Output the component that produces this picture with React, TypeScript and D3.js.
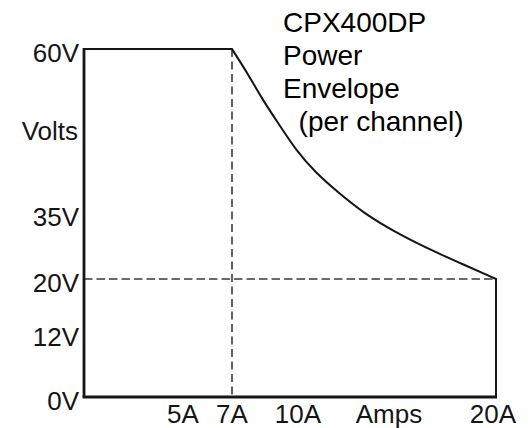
import * as d3 from "d3"

// values
const voltTicks = [0, 12, 20, 35, 60]
const voltLabels = ["0V", "12V", "20V", "35V", "60V"]
const ampTicks = [5, 7, 10, 20]
const ampLabels = ["5A", "7A", "10A", "20A"]

// constant-power curve from 7A/60V down to 20A/20V
const curveAmps = [7, 7.8, 8.4, 9.2, 9.9, 10.9, 12, 13.3, 15, 16.7, 18.4, 20]
const curveVolts = [60, 55.8, 52.2, 48.2, 44.6, 41.1, 38.2, 35, 30.4, 26.6, 23.2, 20]

const titleLines = ["CPX400DP", "Power", "Envelope", "  (per channel)"]

const width = 532
const height = 428
const font = "'Liberation Sans', Arial, sans-serif"
const ink = "#151515"

export default function App() {
  // the drawing is schematic, so both scales are piecewise linear
  const x = d3.scaleLinear().domain([0, 5, 7, 10, 20]).range([84, 183, 232, 298, 496])
  const y = d3.scaleLinear().domain([0, 12, 20, 35, 60]).range([397, 333, 279, 213, 49])

  const pts: [number, number][] = curveAmps.map((a, i) => [a, curveVolts[i]])
  const curve = d3
    .line<[number, number]>()
    .x((d) => x(d[0]))
    .y((d) => y(d[1]))
    .curve(d3.curveBasis)

  const envelope =
    `M${x(0)},${y(60)}L${x(7)},${y(60)}` +
    curve(pts)!.replace(/^M[^LC]*/, "") +
    `L${x(20)},${y(0)}`

  return (
    <>
      <style>{"body{margin:0}"}</style>
      <svg width={width} height={height} style={{ display: "block", background: "#fff" }}>
        {/* dashed guides */}
        <line x1={x(7)} x2={x(7)} y1={y(60)} y2={y(0)} stroke="#3a3a3a" strokeWidth={1.6} strokeDasharray="8,4.5" />
        <line x1={x(0)} x2={x(20)} y1={y(20)} y2={y(20)} stroke="#3a3a3a" strokeWidth={1.6} strokeDasharray="8.5,4" />

        {/* envelope outline */}
        <path d={envelope} fill="none" stroke={ink} strokeWidth={2} strokeLinejoin="miter" />

        {/* axes */}
        <line x1={x(0)} x2={x(0)} y1={y(60) - 1} y2={y(0)} stroke={ink} strokeWidth={2.8} />
        <line x1={x(0) - 1.4} x2={x(20) + 1} y1={y(0)} y2={y(0)} stroke={ink} strokeWidth={2.8} />

        {/* y tick labels */}
        <g fontFamily={font} fontSize={26} fill={ink} textAnchor="end">
          {voltTicks.map((v, i) => (
            <text key={v} x={79} y={y(v) + 12.5}>
              {voltLabels[i]}
            </text>
          ))}
          <text x={78} y={140}>Volts</text>
        </g>

        {/* x tick labels */}
        <g fontFamily={font} fontSize={26} fill={ink} textAnchor="middle">
          {ampTicks.map((a, i) => (
            <text key={a} x={x(a) - (a === 20 ? 3 : 0)} y={423}>
              {ampLabels[i]}
            </text>
          ))}
          <text x={389} y={423}>Amps</text>
        </g>

        {/* title */}
        <g fontFamily={font} fontSize={28} fill="#000">
          {titleLines.map((t, i) => (
            <text key={i} x={283} y={32 + i * 33} style={{ whiteSpace: "pre" }}>
              {t}
            </text>
          ))}
        </g>
      </svg>
    </>
  )
}
